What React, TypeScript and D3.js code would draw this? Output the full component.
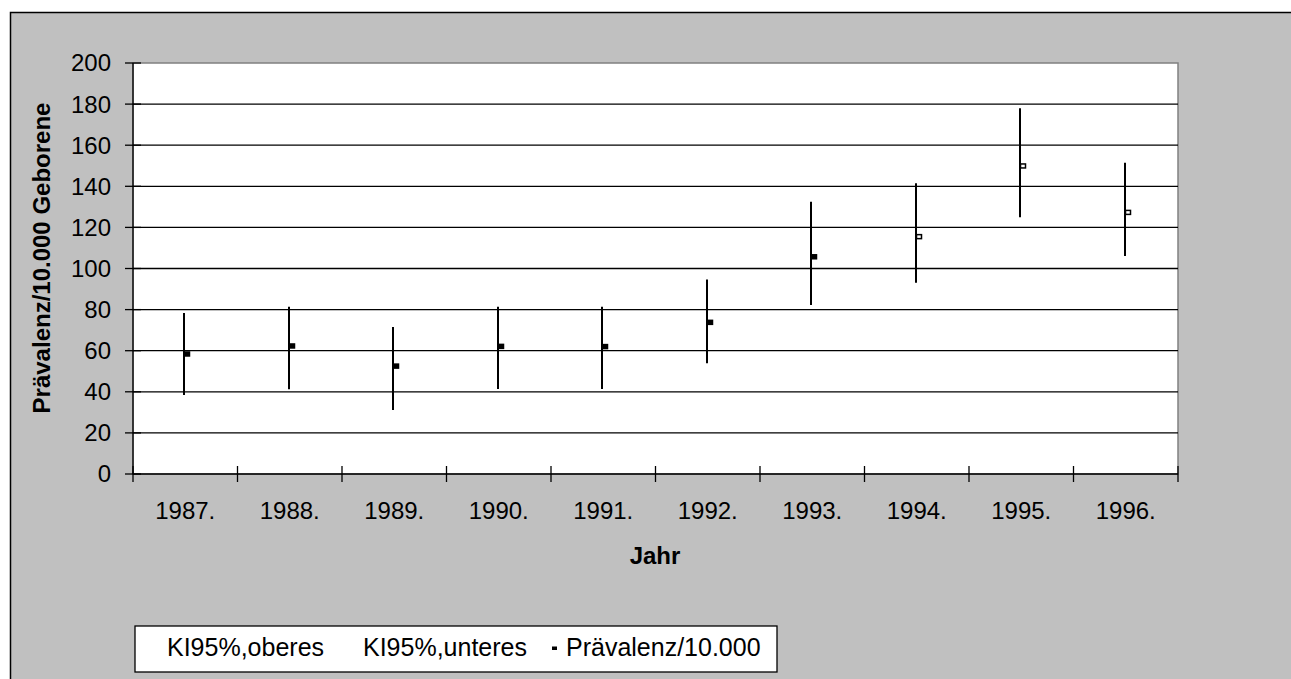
import React from "react";
import * as d3 from "d3";

const years = ["1987.", "1988.", "1989.", "1990.", "1991.", "1992.", "1993.", "1994.", "1995.", "1996."];
const upperCI = [78.3, 81.4, 71.5, 81.4, 81.4, 94.7, 132.5, 141.5, 178.0, 151.5];
const lowerCI = [38.4, 41.2, 31.1, 41.4, 41.4, 53.9, 82.2, 93.1, 124.9, 106.1];
const prevalence = [58.4, 62.3, 52.5, 62.1, 62.0, 73.8, 105.7, 115.5, 149.9, 127.3];
const yTicks = [0, 20, 40, 60, 80, 100, 120, 140, 160, 180, 200];
const legendLabels = ["KI95%,oberes", "KI95%,unteres", "Prävalenz/10.000"];

const W = 1291;
const H = 679;
const plot = { left: 133, top: 63, right: 1178, bottom: 474 };
const font = "'Liberation Sans', Arial, sans-serif";

export default function App() {
  const x = d3.scaleBand<string>().domain(years).range([plot.left, plot.right]);
  const y = d3.scaleLinear().domain([0, 200]).range([plot.bottom, plot.top]);
  const bw = x.bandwidth();
  const boundaries = d3.range(years.length + 1).map((i) => plot.left + i * bw);

  return (
    <svg
      width={W}
      height={H}
      style={{ position: "absolute", left: 0, top: 0, display: "block" }}
      fontFamily={font}
    >
      <rect x={0} y={0} width={W} height={H} fill="#ffffff" />
      <rect x={10.5} y={12.5} width={W + 10} height={H + 10} fill="#c0c0c0" stroke="#000" strokeWidth={1.5} />
      {/* plot area */}
      <rect
        x={plot.left}
        y={plot.top}
        width={plot.right - plot.left}
        height={plot.bottom - plot.top}
        fill="#ffffff"
        stroke="#808080"
        strokeWidth={1.5}
      />
      {/* gridlines */}
      {yTicks.slice(1, -1).map((t) => (
        <line key={t} x1={plot.left} x2={plot.right} y1={y(t)} y2={y(t)} stroke="#000" strokeWidth={1.3} />
      ))}
      {/* y axis */}
      <line x1={plot.left} x2={plot.left} y1={plot.top} y2={plot.bottom} stroke="#000" strokeWidth={1.3} />
      {yTicks.map((t) => (
        <g key={t}>
          <line x1={plot.left - 8} x2={plot.left + 8} y1={y(t)} y2={y(t)} stroke="#000" strokeWidth={1.3} />
          <text x={111} y={y(t)} dy="0.35em" textAnchor="end" fontSize={24} fill="#000">
            {t}
          </text>
        </g>
      ))}
      {/* x axis */}
      <line x1={plot.left} x2={plot.right} y1={plot.bottom} y2={plot.bottom} stroke="#000" strokeWidth={1.3} />
      {boundaries.map((b, i) => (
        <line key={i} x1={b} x2={b} y1={plot.bottom - 8} y2={plot.bottom + 8} stroke="#000" strokeWidth={1.3} />
      ))}
      {years.map((yr) => (
        <text key={yr} x={(x(yr) as number) + bw / 2} y={511} dy="0.35em" textAnchor="middle" fontSize={24} fill="#000">
          {yr}
        </text>
      ))}
      {/* hi-lo lines & markers */}
      {years.map((yr, i) => {
        const cx = Math.round((x(yr) as number) + bw / 2) - 1;
        const py = y(prevalence[i]);
        return (
          <g key={yr}>
            <line x1={cx} x2={cx} y1={y(upperCI[i])} y2={y(lowerCI[i])} stroke="#000" strokeWidth={2} />
            <rect
              x={cx + 0.5}
              y={py - 2}
              width={5}
              height={4}
              fill={i >= 7 ? "#fff" : "#000"}
              stroke="#000"
              strokeWidth={1.5}
            />
          </g>
        );
      })}
      {/* axis titles */}
      <text x={655} y={556} dy="0.35em" textAnchor="middle" fontSize={24} fontWeight="bold" fill="#000">
        Jahr
      </text>
      <text
        transform={`translate(42, 258) rotate(-90)`}
        dy="0.35em"
        textAnchor="middle"
        fontSize={24}
        fontWeight="bold"
        fill="#000"
      >
        Prävalenz/10.000 Geborene
      </text>
      {/* legend */}
      <rect x={135} y={626} width={642} height={46} fill="#fff" stroke="#000" strokeWidth={1.3} />
      <text x={167} y={656} fontSize={25} fill="#000">{legendLabels[0]}</text>
      <text x={363} y={656} fontSize={25} fill="#000">{legendLabels[1]}</text>
      <rect x={552} y={646.5} width={5} height={3.5} fill="#000" />
      <text x={566} y={656} fontSize={25} fill="#000">{legendLabels[2]}</text>
    </svg>
  );
}
